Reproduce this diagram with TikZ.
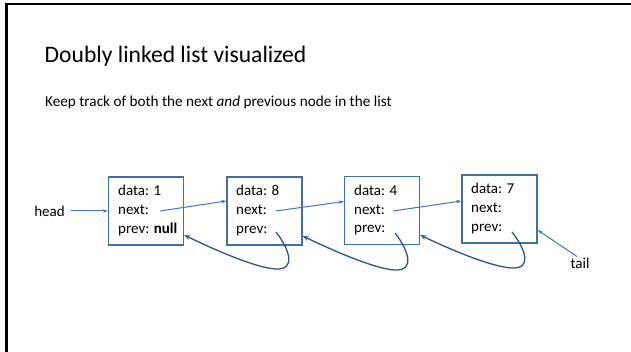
\documentclass[tikz,border=0pt]{standalone}
\usepackage{fontspec}
\setmainfont{Carlito}
\usetikzlibrary{arrows.meta}
\definecolor{linkblue}{HTML}{4472C4}
\definecolor{boxblue}{HTML}{41719C}
\definecolor{prevblue}{HTML}{2F528F}

\begin{document}
\begin{tikzpicture}[x=1pt,y=-1pt,
  cell/.style={draw=boxblue, line width=1.3pt, minimum width=75pt, minimum height=68pt, inner sep=0pt},
  field/.style={anchor=base west, inner sep=0pt, font=\fontsize{15}{18}\selectfont},
  label/.style={inner sep=1pt, font=\fontsize{15}{18}\selectfont},
  nextlink/.style={draw=linkblue, line width=1pt, -{Stealth[length=5pt,width=3.5pt]}},
  prevlink/.style={draw=prevblue, line width=1.3pt, -{Stealth[length=6pt,width=4.5pt]}}]

\useasboundingbox (0,0) rectangle (631,352);
\fill[white] (0,0) rectangle (631,352);
% slide frame
\draw[black, line width=2.6pt] (6.5,352) -- (6.5,4) -- (631,4);

% title and subtitle
\node[anchor=base west, inner sep=0pt, font=\fontsize{23.6}{28}\selectfont] (title) at (44.5,63) {Doubly linked list visualized};
\node[anchor=base west, inner sep=0pt, font=\fontsize{15.2}{18}\selectfont] (sub) at (45,107) {Keep track of both the next \textit{and} previous node in the list};

% list nodes
\node[cell] (b1) at (146,211) {};
\node[cell] (b2) at (264.5,211) {};
\node[cell] (b3) at (382,210.5) {};
\node[cell] (b4) at (499.5,209) {};

\node[field] (d1) at (118,196) {data: 1};
\node[field] (x1) at (118,215) {next:};
\node[field] (p1) at (118,233.5) {prev: \textbf{null}};
\node[field] (d2) at (236,196) {data: 8};
\node[field] (x2) at (236,215) {next:};
\node[field] (p2) at (236,233.5) {prev:};
\node[field] (d3) at (354,195.5) {data: 4};
\node[field] (x3) at (354,214.5) {next:};
\node[field] (p3) at (354,233) {prev:};
\node[field] (d4) at (471,194) {data: 7};
\node[field] (x4) at (471,213) {next:};
\node[field] (p4) at (471,231.5) {prev:};

% pointer origins inside the boxes
\coordinate (n1) at (160,211);
\coordinate (n2) at (276,211);
\coordinate (n3) at (393,211);
\coordinate (s2) at (276,232);
\coordinate (s3) at (395,233);
\coordinate (s4) at (512,232);

% head and tail labels
\node[label] (head) at (49.5,211) {head};
\node[label] (tail) at (580,263) {tail};

% next pointers
\draw[nextlink, shorten <=5pt] (head.east) -- (b1.west);
\draw[nextlink] (n1) -- ([yshift=10pt]b2.west);
\draw[nextlink] (n2) -- ([yshift=9pt]b3.west);
\draw[nextlink] (n3) -- ([yshift=8pt]b4.west);
\draw[nextlink] ([xshift=-3pt]tail.north) -- ([yshift=-21pt]b4.east);

% prev pointers
\draw[prevlink] (s2) .. controls (290,250) and (296,270) .. (276,269)
  .. controls (256,268) and (215,250) .. ([yshift=-24pt]b1.east);
\draw[prevlink] (s3) .. controls (409,251) and (415,271) .. (395,270)
  .. controls (375,269) and (334,251) .. ([yshift=-25pt]b2.east);
\draw[prevlink] (s4) .. controls (526,250) and (532,269) .. (512,268)
  .. controls (492,267) and (451,250) .. ([yshift=-24.5pt]b3.east);
\end{tikzpicture}
\end{document}
